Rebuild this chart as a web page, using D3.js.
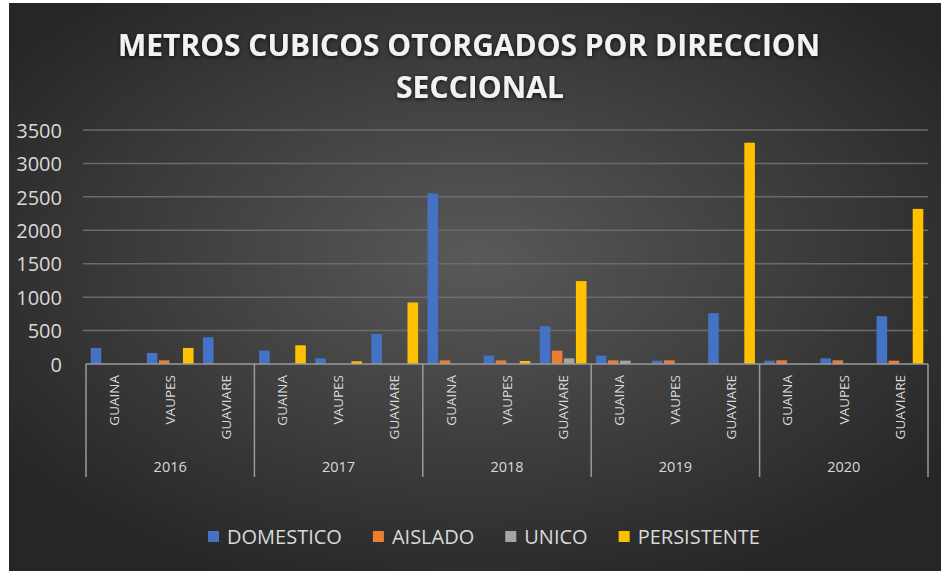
<!DOCTYPE html>
<html>
<head>
<meta charset="utf-8">
<script src="https://cdn.jsdelivr.net/npm/d3@7"></script>
<style>
  html, body { margin: 0; padding: 0; background: #ffffff; }
  svg { display: block; }
</style>
</head>
<body>
<svg id="chart" width="943" height="571"></svg>
<script>
// ---- data ----
const years = ["2016", "2017", "2018", "2019", "2020"];
const regions = ["GUAINA", "VAUPES", "GUAVIARE"];
const seriesNames = ["DOMESTICO", "AISLADO", "UNICO", "PERSISTENTE"];
const seriesColors = ["#4472C4", "#ED7D31", "#A5A5A5", "#FFC000"];
const domestico   = [240, 165, 400, 200, 85, 450, 2550, 125, 565, 125, 50, 760, 50, 85, 715];
const aislado     = [0, 55, 0, 0, 0, 0, 55, 55, 200, 55, 55, 0, 55, 55, 50];
const unico       = [0, 0, 0, 0, 0, 0, 0, 0, 85, 50, 0, 0, 0, 0, 0];
const persistente = [0, 240, 0, 280, 40, 920, 0, 45, 1240, 0, 0, 3310, 0, 0, 2320];
const yTicks = [0, 500, 1000, 1500, 2000, 2500, 3000, 3500];
const titleLines = ["METROS CUBICOS OTORGADOS POR DIRECCION", "SECCIONAL"];

const seriesValues = [domestico, aislado, unico, persistente];
const categories = [];
years.forEach(y => regions.forEach(r => categories.push({ key: y + "|" + r, year: y, region: r })));

const svg = d3.select("#chart");
const defs = svg.append("defs");

// background
const rg = defs.append("radialGradient").attr("id", "bg")
  .attr("cx", "50%").attr("cy", "45%").attr("r", "62%");
rg.append("stop").attr("offset", "0%").attr("stop-color", "#595959");
rg.append("stop").attr("offset", "100%").attr("stop-color", "#262626");
svg.append("rect").attr("x", 9).attr("y", 3).attr("width", 932).attr("height", 568)
  .attr("fill", "url(#bg)");

const shadow = defs.append("filter").attr("id", "tshadow")
  .attr("x", "-10%").attr("y", "-30%").attr("width", "120%").attr("height", "160%");
shadow.append("feGaussianBlur").attr("in", "SourceAlpha").attr("stdDeviation", 2.2).attr("result", "b");
shadow.append("feOffset").attr("in", "b").attr("dx", 0).attr("dy", 1).attr("result", "o");
shadow.append("feComponentTransfer").attr("in", "o").attr("result", "o2")
  .append("feFuncA").attr("type", "linear").attr("slope", 0.8);
const fm = shadow.append("feMerge");
fm.append("feMergeNode").attr("in", "o2");
fm.append("feMergeNode").attr("in", "SourceGraphic");

// title
const title = svg.append("g").attr("filter", "url(#tshadow)");
title.append("text").attr("x", 469).attr("y", 56)
  .attr("text-anchor", "middle").attr("font-family", "Open Sans").attr("font-weight", 700)
  .attr("font-size", 30).attr("fill", "#f2f2f2")
  .attr("textLength", 702).attr("lengthAdjust", "spacingAndGlyphs")
  .text(titleLines[0]);
title.append("text").attr("x", 480).attr("y", 98)
  .attr("text-anchor", "middle").attr("font-family", "Open Sans").attr("font-weight", 700)
  .attr("font-size", 30).attr("fill", "#f2f2f2")
  .attr("textLength", 168).attr("lengthAdjust", "spacingAndGlyphs")
  .text(titleLines[1]);

// scales
const plotLeft = 86, plotRight = 928, yBase = 364, yTop = 130;
const y = d3.scaleLinear().domain([0, 3500]).range([yBase, yTop]);
const x0 = d3.scaleBand().domain(categories.map(c => c.key)).range([plotLeft, plotRight]).padding(0);
const x1 = d3.scaleBand().domain(seriesNames).range([0, x0.bandwidth()])
  .paddingInner(0.12).paddingOuter(0.39);
const xYear = d3.scaleBand().domain(years).range([plotLeft, plotRight]).padding(0);

// gridlines
svg.append("g").selectAll("line").data(yTicks.filter(t => t > 0)).join("line")
  .attr("x1", 83).attr("x2", plotRight)
  .attr("y1", d => y(d)).attr("y2", d => y(d))
  .attr("stroke", "#6b6b6b").attr("stroke-width", 1.5);

// y axis labels
const yAxis = d3.axisLeft(y).tickValues(yTicks).tickSize(0).tickPadding(0).tickFormat(d3.format("d"));
const yg = svg.append("g").attr("transform", "translate(62,0)").call(yAxis);
yg.select(".domain").remove();
yg.selectAll("text").attr("font-family", "Open Sans").attr("font-size", 20)
  .attr("fill", "#d9d9d9").attr("dy", "0.36em");

// bars
const barData = [];
categories.forEach((c, i) => {
  seriesNames.forEach((s, j) => {
    barData.push({ cat: c.key, series: s, value: seriesValues[j][i], color: seriesColors[j] });
  });
});
svg.append("g").selectAll("rect").data(barData.filter(d => d.value > 0)).join("rect")
  .attr("x", d => x0(d.cat) + x1(d.series))
  .attr("width", x1.bandwidth())
  .attr("y", d => y(d.value))
  .attr("height", d => yBase - y(d.value))
  .attr("fill", d => d.color);

// category axis (multi-level)
const axisColor = "#9a9a9a";
svg.append("line").attr("x1", plotLeft).attr("x2", plotRight).attr("y1", yBase).attr("y2", yBase)
  .attr("stroke", axisColor).attr("stroke-width", 1.5);
const bounds = years.map(yv => xYear(yv)).concat([plotRight]);
svg.append("g").selectAll("line").data(bounds).join("line")
  .attr("x1", d => d).attr("x2", d => d).attr("y1", yBase).attr("y2", 477)
  .attr("stroke", axisColor).attr("stroke-width", 1.5);

svg.append("g").selectAll("text").data(categories).join("text")
  .attr("transform", d => `translate(${x0(d.key) + x0.bandwidth() / 2},375) rotate(-90)`)
  .attr("text-anchor", "end").attr("dy", "0.35em")
  .attr("font-family", "Open Sans").attr("font-size", 13.5).attr("fill", "#d9d9d9")
  .text(d => d.region);

svg.append("g").selectAll("text").data(years).join("text")
  .attr("x", d => xYear(d) + xYear.bandwidth() / 2).attr("y", 472)
  .attr("text-anchor", "middle")
  .attr("font-family", "Open Sans").attr("font-size", 14.5).attr("fill", "#d9d9d9")
  .text(d => d);

// legend
const legend = svg.append("g");
let lx = 208;
seriesNames.forEach((s, j) => {
  const g = legend.append("g").attr("transform", `translate(${lx},0)`);
  g.append("rect").attr("x", 0).attr("y", 531).attr("width", 11).attr("height", 11)
    .attr("fill", seriesColors[j]);
  const t = g.append("text").attr("x", 19).attr("y", 544)
    .attr("font-family", "Open Sans").attr("font-size", 20).attr("fill", "#d9d9d9")
    .text(s);
  const w = t.node().getComputedTextLength();
  lx += 19 + w + 31;
});
</script>
</body>
</html>
